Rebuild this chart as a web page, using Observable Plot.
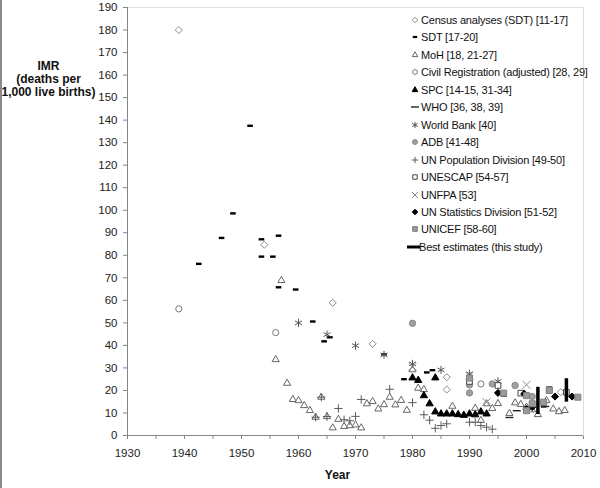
<!DOCTYPE html>
<html><head><meta charset="utf-8">
<script src="https://cdn.jsdelivr.net/npm/d3@7"></script>
<script src="https://cdn.jsdelivr.net/npm/@observablehq/plot@0.6"></script>
<style>
body{margin:0;background:#fff;}
#wrap{position:relative;width:600px;height:488px;overflow:hidden;font-family:"Liberation Sans",Arial,sans-serif;background:#fff}
#edge{position:absolute;left:0;top:0;width:2px;height:488px;background:#8a8a8a;z-index:3}
#chart{position:absolute;left:0;top:0}
#legend{position:absolute;left:0;top:0;width:600px;height:488px;pointer-events:none}
.li{position:absolute;font-size:11px;color:#111;white-space:nowrap;line-height:14px;letter-spacing:-0.2px}
.ic{position:absolute}
svg [aria-label^="x-axis"] path, svg [aria-label^="y-axis"] path, svg [aria-label^="x-axis"] line, svg [aria-label^="y-axis"] line{stroke:#858585}
</style></head><body><div id="wrap"><div id="edge"></div><div id="chart"></div><div id="legend"></div></div>
<script>
// ---------- data ----------
const xTicks = [1930,1935,1940,1945,1950,1955,1960,1965,1970,1975,1980,1985,1990,1995,2000,2005,2010];
const yTicks = [0,10,20,30,40,50,60,70,80,90,100,110,120,130,140,150,160,170,180,190];

const censusYears = [1939, 1954, 1966, 1973, 1986, 1986, 2006];
const censusIMR   = [180, 84.7, 58.9, 40.7, 25.9, 20.4, 19.2];

const sdtYears = [1942.5, 1946.5, 1948.5, 1951.5, 1953.5, 1953.5, 1955.5, 1956.5, 1956.5, 1959.5, 1962.5, 1964.5, 1965.5, 1975, 1978.5, 1982.5, 1983.5, 1996, 2003];
const sdtIMR   = [76.2, 87.7, 98.6, 137.5, 87.1, 79.4, 79.4, 88.7, 65.8, 64.8, 50.6, 41.8, 43.6, 36, 25, 28, 29, 17.7, 12.9];

const mohYears = [1956, 1957, 1958, 1959, 1960, 1961, 1962, 1963, 1964, 1965, 1966, 1967, 1968, 1969, 1970, 1971, 1972, 1973, 1974, 1975, 1976, 1977, 1978, 1979, 1980, 1981, 1982, 1987, 1991, 1992, 1993, 1994, 1995, 1997, 1998, 1999, 2000, 2001, 2002, 2003.5, 2004.7, 2005.7, 2006.7];
const mohIMR   = [33.7, 68.8, 23.2, 16, 15.5, 13.3, 11.1, 8.1, 17, 8.4, 3.4, 7.2, 4, 4.4, 4.7, 3.4, 14.1, 15.1, 11.8, 13.7, 17, 13.6, 15.6, 11.2, 29.2, 21, 20.4, 13, 12.1, 6.7, 14.1, 12, 14.2, 9.8, 14.5, 13.8, 12.6, 11.4, 9.3, 15.5, 11.8, 10.6, 11.1];

const civilYears = [1939, 1956, 1992];
const civilIMR   = [56.2, 45.7, 22.9];

const spcYears = [1980, 1981, 1982, 1983, 1984, 1984, 1985, 1986, 1987, 1988, 1989, 1990, 1991, 1992, 1993];
const spcIMR   = [25.6, 24.5, 17.7, 14.1, 25.6, 10.5, 9.6, 9.6, 9.6, 9.3, 9.0, 9.6, 9.2, 10.5, 9.6];

const whoYears = [1997, 1998.3, 2003.3];
const whoIMR   = [8, 11, 12.9];

const wbYears = [1960, 1965, 1970, 1975, 1980, 1985, 1990, 1995];
const wbIMR   = [50, 44.8, 39.9, 35.8, 31.8, 29.1, 27.4, 24];

const adbYears = [1980, 1990, 1990, 1994, 1998, 2001];
const adbIMR   = [49.8, 22.5, 18.9, 22.9, 22.2, 17.3];

const unpopYears = [1963, 1964, 1965, 1967, 1968, 1969, 1970, 1971, 1976, 1980, 1982, 1983, 1984, 1985, 1986, 1990, 1991, 1992, 1993, 1994];
const unpopIMR   = [8.1, 17, 8.4, 12, 7, 6.5, 8.5, 16, 20.5, 14.6, 9.2, 6.8, 3.2, 4.4, 5.2, 5.9, 5.9, 4.4, 3.7, 2.8];

const unescapYears = [1990, 1995, 1999, 2000, 2004, 2007];
const unescapIMR   = [24, 22.2, 18.8, 11.5, 20.4, 19.2];

const unfpaYears = [1980, 1990, 1993, 2000];
const unfpaIMR   = [30.5, 26.5, 14.8, 22.5];

const unsdYears = [1995, 1999.6, 2000, 2001, 2005, 2008];
const unsdIMR   = [18.9, 18.5, 11.7, 12.6, 17.3, 17.3];

const unicefYears = [1990, 1996, 2000, 2000, 2001, 2003, 2004, 2009];
const unicefIMR   = [25.5, 18.8, 17.7, 11, 14.1, 14.8, 20, 17];

const bestYears = [2002, 2007];
const bestLow   = [9.3, 14.8];
const bestHigh  = [21.4, 25.2];

const legendLabels = ["Census analyses (SDT) [11-17]", "SDT [17-20]", "MoH [18, 21-27]", "Civil Registration (adjusted) [28, 29]", "SPC [14-15, 31-34]", "WHO [36, 38, 39]", "World Bank [40]", "ADB [41-48]", "UN Population Division [49-50]", "UNESCAP [54-57]", "UNFPA [53]", "UN Statistics Division [51-52]", "UNICEF [58-60]", "Best estimates (this study)"];

const yTitle = "IMR\n(deaths per\n1,000 live births)";
const xTitle = "Year";

// ---------- styles ----------
function bar(w, h) {
  return {draw(ctx){ctx.moveTo(-w/2,-h/2);ctx.lineTo(w/2,-h/2);ctx.lineTo(w/2,h/2);ctx.lineTo(-w/2,h/2);ctx.closePath();}};
}
const sdtDash = bar(5.6, 2.4);
const whoDash = bar(8, 1.4);

const series = [
  {years: censusYears, imr: censusIMR, symbol: "diamond2", r: 3.2, fill: "white", stroke: "#8c8c8c"},
  {years: sdtYears, imr: sdtIMR, symbol: sdtDash, legendSymbol: bar(4.5, 2.2), r: 3, fill: "black", stroke: "none"},
  {years: mohYears, imr: mohIMR, symbol: "triangle2", r: 3.4, fill: "white", stroke: "#666"},
  {years: civilYears, imr: civilIMR, symbol: "circle", r: 3.1, fill: "white", stroke: "#7a7a7a"},
  {years: spcYears, imr: spcIMR, symbol: "triangle", r: 2.7, fill: "black", stroke: "black"},
  {years: whoYears, imr: whoIMR, symbol: whoDash, legendSymbol: bar(8, 1.4), r: 3, fill: "#222", stroke: "none"},
  {years: wbYears, imr: wbIMR, symbol: "asterisk", r: 3.8, fill: "none", stroke: "#555"},
  {years: adbYears, imr: adbIMR, symbol: "circle", r: 3.2, fill: "#a0a0a0", stroke: "#8a8a8a"},
  {years: unpopYears, imr: unpopIMR, symbol: "plus", r: 2.8, fill: "none", stroke: "#5a5a5a"},
  {years: unescapYears, imr: unescapIMR, symbol: "square2", r: 3.6, fill: "white", stroke: "#444"},
  {years: unfpaYears, imr: unfpaIMR, symbol: "times", r: 3.7, fill: "none", stroke: "#8a8a8a"},
  {years: unsdYears, imr: unsdIMR, symbol: "diamond2", r: 3.2, fill: "black", stroke: "black"},
  {years: unicefYears, imr: unicefIMR, symbol: "square", r: 3.4, fill: "#9a9a9a", stroke: "#808080"}
];

const marks = [
  Plot.frame({stroke: "#dedede"}),
  ...series.map(s => Plot.dot(s.years, {x: s.years, y: s.imr, symbol: s.symbol, r: s.r, fill: s.fill, stroke: s.stroke, strokeWidth: 1})),
  Plot.ruleX(bestYears, {x: bestYears, y1: bestLow, y2: bestHigh, stroke: "black", strokeWidth: 3.5}),
  Plot.ruleX([1930], {stroke: "#858585"}),
  Plot.ruleY([0], {stroke: "#858585"}),
  Plot.text([yTitle], {text: d => d, frameAnchor: "top-left", dx: -79, dy: 71, lineAnchor: "middle", textAnchor: "middle", fontWeight: "bold", fontSize: 12, lineHeight: 1.1, fill: "#111"}),
  Plot.text([xTitle], {text: d => d, frameAnchor: "bottom", dx: -18, dy: 43, fontWeight: "bold", fontSize: 12, fill: "#111"})
];

const chart = Plot.plot({
  width: 600, height: 488,
  marginLeft: 127, marginRight: 17, marginTop: 7, marginBottom: 53,
  style: {fontFamily: "'Liberation Sans', Arial, sans-serif", fontSize: "11.5px", color: "#222", background: "white", overflow: "visible"},
  x: {domain: [1930, 2010], ticks: xTicks, tickFormat: d => d % 10 === 0 ? String(d) : "", tickSize: 4, tickPadding: 9, label: null},
  y: {domain: [0, 190], ticks: yTicks, tickSize: 4, tickPadding: 6, label: null},
  marks
});
document.getElementById("chart").appendChild(chart);

// ---------- legend ----------
const symMap = {diamond2: d3.symbolDiamond2, triangle2: d3.symbolTriangle2, circle: d3.symbolCircle, triangle: d3.symbolTriangle, asterisk: d3.symbolAsterisk, plus: d3.symbolPlus, square2: d3.symbolSquare2, times: d3.symbolTimes, square: d3.symbolSquare};
const leg = d3.select("#legend");
legendLabels.forEach((label, i) => {
  const cy = 20 + i * 17.45;
  const isBest = i === legendLabels.length - 1;
  const svg = leg.append("svg").attr("class", "ic").attr("width", 18).attr("height", 14)
    .style("left", (isBest ? 405 : 406) + "px").style("top", (cy - 7) + "px");
  if (isBest) {
    svg.append("line").attr("x1", 2).attr("x2", 15).attr("y1", 7).attr("y2", 7).attr("stroke", "black").attr("stroke-width", 3);
  } else {
    const s = series[i];
    const g = svg.append("g").attr("transform", "translate(9,7)");
    if (typeof s.symbol === "string") {
      const rr = s.r * 0.78;
      g.append("path").attr("d", d3.symbol(symMap[s.symbol], Math.PI * rr * rr)()).attr("fill", s.fill).attr("stroke", s.stroke);
    } else {
      g.append("path").attr("d", d3.symbol(s.legendSymbol)()).attr("fill", s.fill).attr("stroke", s.stroke);
    }
  }
  leg.append("div").attr("class", "li").style("left", (isBest ? 419 : 421) + "px").style("top", (cy - 7) + "px").text(label);
});
</script>
</body></html>
